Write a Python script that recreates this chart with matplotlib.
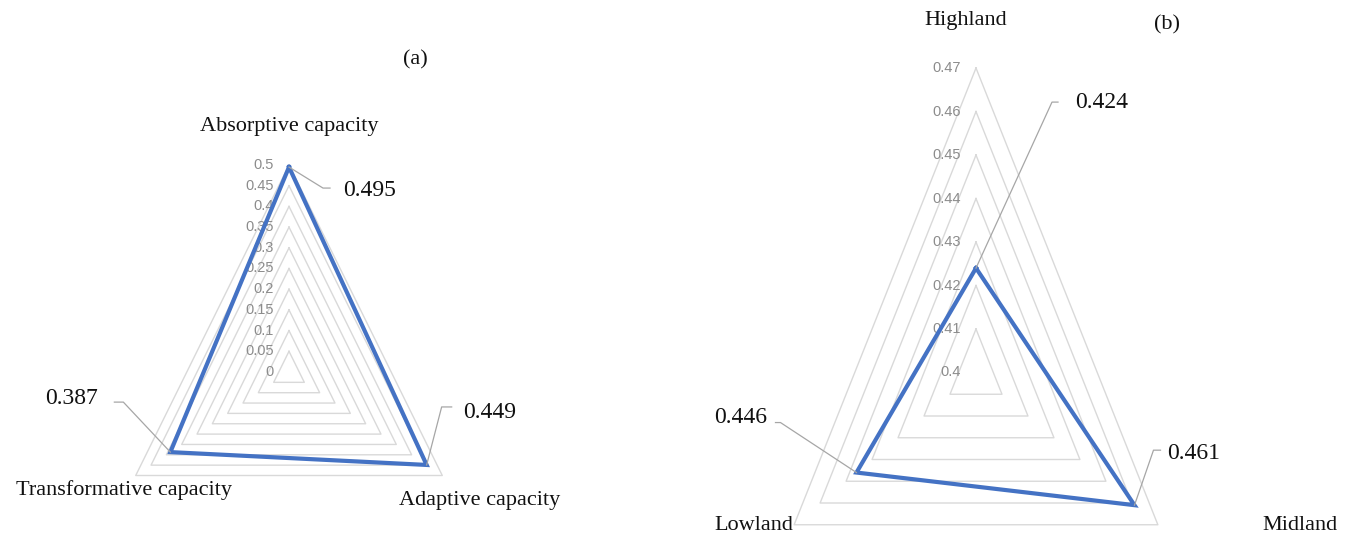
import numpy as np
import matplotlib.pyplot as plt
from matplotlib.lines import Line2D
from matplotlib.transforms import IdentityTransform

W, H = 1358, 537

# ---- data ----
left_labels = ['Absorptive capacity', 'Adaptive capacity', 'Transformative capacity']
left_values = [0.495, 0.449, 0.387]
left_ticks = [0, 0.05, 0.1, 0.15, 0.2, 0.25, 0.3, 0.35, 0.4, 0.45, 0.5]

right_labels = ['Highland', 'Midland', 'Lowland']
right_values = [0.424, 0.461, 0.446]
right_ticks = [0.40, 0.41, 0.42, 0.43, 0.44, 0.45, 0.46, 0.47]

# top, bottom-right, bottom-left
angles = np.deg2rad([90, -30, 210])

SERIF = ['Liberation Serif', 'DejaVu Serif']
NARROW = ['Liberation Sans Narrow', 'Liberation Sans', 'DejaVu Sans']
GRID_C = '#d9d9d9'
LINE_C = '#4472C4'
LEAD_C = '#a6a6a6'

fig = plt.figure(figsize=(W / 100, H / 100), dpi=100)


def px2fig(x, y):
    return x / W, 1 - y / H


def add_radar(rect_px, center_px, sx, sy, ticks, values):
    l, t, w, h = rect_px
    cx, cy = center_px
    ax = fig.add_axes([l / W, 1 - (t + h) / H, w / W, h / H])
    ax.set_xlim((l - cx) / sx, (l + w - cx) / sx)
    ax.set_ylim((cy - (t + h)) / sy, (cy - t) / sy)
    ax.axis('off')
    rmin = ticks[0]
    # grid rings
    for tk in ticks[1:]:
        r = tk - rmin
        xs = np.append(r * np.cos(angles), r * np.cos(angles[0]))
        ys = np.append(r * np.sin(angles), r * np.sin(angles[0]))
        ax.plot(xs, ys, color=GRID_C, lw=1.0, zorder=1)
    # tick labels along the top axis
    for tk in ticks:
        ax.annotate(f'{tk:g}', xy=(0, tk - rmin), xytext=(-15, 0),
                    textcoords='offset pixels', ha='right', va='center',
                    fontsize=10.5, color='#8c8c8c', family=NARROW, zorder=2)
    # series
    r = np.array(values) - rmin
    xs = np.append(r * np.cos(angles), r[0] * np.cos(angles[0]))
    ys = np.append(r * np.sin(angles), r[0] * np.sin(angles[0]))
    ax.plot(xs, ys, color=LINE_C, lw=3.0, solid_joinstyle='miter', zorder=3)
    return ax, r


def leader(ax, x, y, text, elbow, end, tdx, tdy, ha):
    px, py = ax.transData.transform((x, y))
    ex, ey = px + elbow[0], py + elbow[1]
    fig.add_artist(Line2D([px, ex, ex + end], [py, ey, ey], color=LEAD_C, lw=0.9,
                          transform=IdentityTransform()))
    ax.annotate(text, xy=(x, y), xytext=(tdx, tdy), textcoords='offset pixels',
                ha=ha, va='center', fontsize=17, family=SERIF, color='#111111')


# ---- (a) ----
axL, rL = add_radar((0, 0, 679, H), (289, 372), 354, 414, left_ticks, left_values)
offsL = [((34, -21), 7, 54, -23, 'left'),
         ((15, 58), 10, 36, 52, 'left'),
         ((-47, 50), -9, -72, 54, 'right')]
for v, rr, a, (el, en, tdx, tdy, ha) in zip(left_values, rL, angles, offsL):
    leader(axL, rr * np.cos(a), rr * np.sin(a), f'{v:.3f}', el, en, tdx, tdy, ha)

# ---- (b) ----
axR, rR = add_radar((679, 0, 679, H), (976, 372.5), 3000, 4350, right_ticks, right_values)
offsR = [((76, 166), 6, 99, 166, 'left'),
         ((19, 55), 7, 33, 52, 'left'),
         ((-76, 50), -5, -89, 55, 'right')]
for v, rr, a, (el, en, tdx, tdy, ha) in zip(right_values, rR, angles, offsR):
    leader(axR, rr * np.cos(a), rr * np.sin(a), f'{v:.3f}', el, en, tdx, tdy, ha)

# ---- text labels ----
txt = dict(family=SERIF, fontsize=16, color='#111111', ha='center', va='center')
fig.text(*px2fig(415, 60), '(a)', **txt)
fig.text(*px2fig(289, 127), left_labels[0], **txt)
fig.text(*px2fig(480, 500), left_labels[1], **txt)
fig.text(*px2fig(124, 490), left_labels[2], **txt)

fig.text(*px2fig(1167, 25), '(b)', **txt)
fig.text(*px2fig(966, 20), right_labels[0], **txt)
fig.text(*px2fig(1300, 526), right_labels[1], **txt)
fig.text(*px2fig(754, 526), right_labels[2], **txt)

fig.savefig('out.png', dpi=100, facecolor='white')
